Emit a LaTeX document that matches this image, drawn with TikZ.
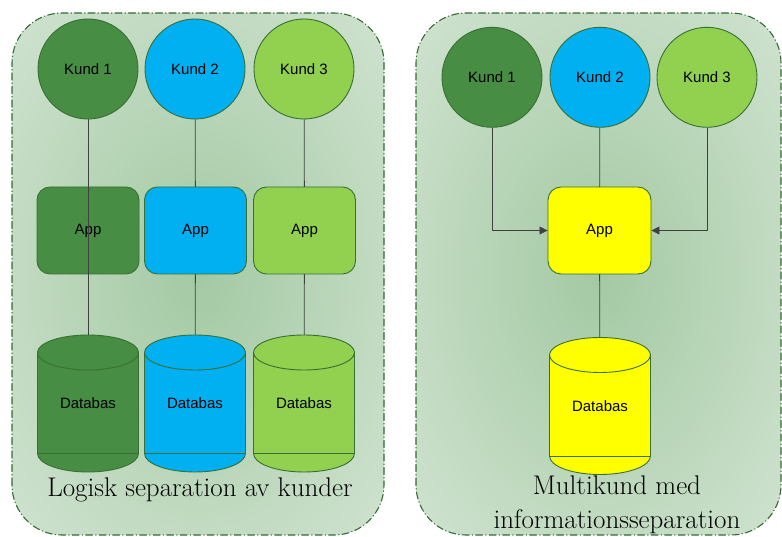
\documentclass[tikz,border=0pt]{standalone}
\usepackage{fontspec}
\usetikzlibrary{arrows.meta}
\newfontfamily\kundfont{Liberation Sans}
\definecolor{morkgron}{RGB}{72,141,68}
\definecolor{ljusbla}{RGB}{0,176,240}
\definecolor{ljusgron}{RGB}{146,208,80}
\definecolor{gul}{RGB}{255,255,0}
\definecolor{kant}{RGB}{56,112,52}
\definecolor{ram}{RGB}{52,105,52}
\definecolor{panelmitt}{RGB}{163,201,163}
\definecolor{panelkant}{RGB}{226,237,226}
\pgfdeclareradialshading{panelglow}{\pgfpoint{0bp}{0bp}}{color(0bp)=(panelmitt); color(50bp)=(panelkant)}
% database drum: centre x, centre y, fill colour
\newcommand{\trumma}[3]{%
  \draw[kantlinje,fill=#3] ({#1-50.5},{#2+51}) -- ({#1-50.5},{#2-50})
    arc[start angle=180,end angle=360,x radius=50.5,y radius=18.5]
    -- ({#1+50.5},{#2+51})
    arc[start angle=0,end angle=180,x radius=50.5,y radius=17.5] -- cycle;
  \draw[kantlinje] ({#1-50.5},{#2+51}) arc[start angle=180,end angle=360,x radius=50.5,y radius=17.5];
  \draw[kantlinje] ({#1-50.5},{#2-50}) -- ({#1+50.5},{#2-50});
}

\begin{document}
\begin{tikzpicture}[line cap=round,line join=round,>={Triangle[length=8pt,width=8pt]},x=1pt,y=1pt,
  panel/.style={draw=ram,line width=1.1pt,dash pattern=on 7pt off 3pt on 0.5pt off 3pt,rounded corners=50pt,shade,shading=panelglow},
  kantlinje/.style={draw=kant,line width=0.9pt},
  kund/.style={circle,kantlinje,minimum size=100pt,inner sep=0pt,font=\kundfont\fontsize{15}{18}\selectfont},
  app/.style={rectangle,rounded corners=13pt,kantlinje,minimum width=102pt,minimum height=87pt,inner sep=0pt,font=\kundfont\fontsize{15}{18}\selectfont},
  databas/.style={rectangle,minimum width=101pt,minimum height=137pt,inner sep=0pt,font=\kundfont\fontsize{15}{18}\selectfont},
  rubrik/.style={font=\fontsize{27}{34}\selectfont,align=center},
  link/.style={draw=black!75,line width=0.8pt}]
\useasboundingbox (0,0) rectangle (782,536);

% two panels
\path[panel] (12,1) rectangle (384,523);
\path[panel] (416,1) rectangle (781,523);

% left panel: one app and one database per customer
\node[kund,fill=morkgron] (kund1v) at (88,467) {Kund 1};
\node[kund,fill=ljusbla] (kund2v) at (195,467) {Kund 2};
\node[kund,fill=ljusgron] (kund3v) at (304,467) {Kund 3};
\node[app,fill=morkgron] (app1v) at (88,305.5) {App};
\node[app,fill=ljusbla] (app2v) at (195.5,305.5) {App};
\node[app,fill=ljusgron] (app3v) at (304.5,305.5) {App};
\foreach \x/\farg in {88/morkgron,195/ljusbla,304/ljusgron}
  \trumma{\x}{132.5}{\farg};
\node[databas] (db1v) at (88,132.5) {Databas};
\node[databas] (db2v) at (195,132.5) {Databas};
\node[databas] (db3v) at (304,132.5) {Databas};
\draw[link] (kund1v) -- (db1v);
\draw[link] (kund2v) -- (app2v);
\draw[link] (app2v) -- (db2v);
\draw[link] (kund3v) -- (app3v);
\draw[link] (app3v) -- (db3v);
\node[rubrik] (rubrikv) at (200,46) {Logisk separation av kunder};

% right panel: shared app and database
\node[kund,fill=morkgron] (kund1h) at (492,458.7) {Kund 1};
\node[kund,fill=ljusbla] (kund2h) at (600,458.7) {Kund 2};
\node[kund,fill=ljusgron] (kund3h) at (707,458.7) {Kund 3};
\node[app,fill=gul,minimum width=103pt] (apph) at (599.5,305.5) {App};
\trumma{600}{130}{gul}
\node[databas] (dbh) at (600,130) {Databas};
\draw[link,->] (kund1h) |- (apph);
\draw[link,->] (kund3h) |- (apph);
\draw[link] (kund2h) -- (apph);
\draw[link] (apph) -- (dbh);
\node[rubrik] (rubrikh) at (617,31) {Multikund med\\informationsseparation};
\end{tikzpicture}
\end{document}
